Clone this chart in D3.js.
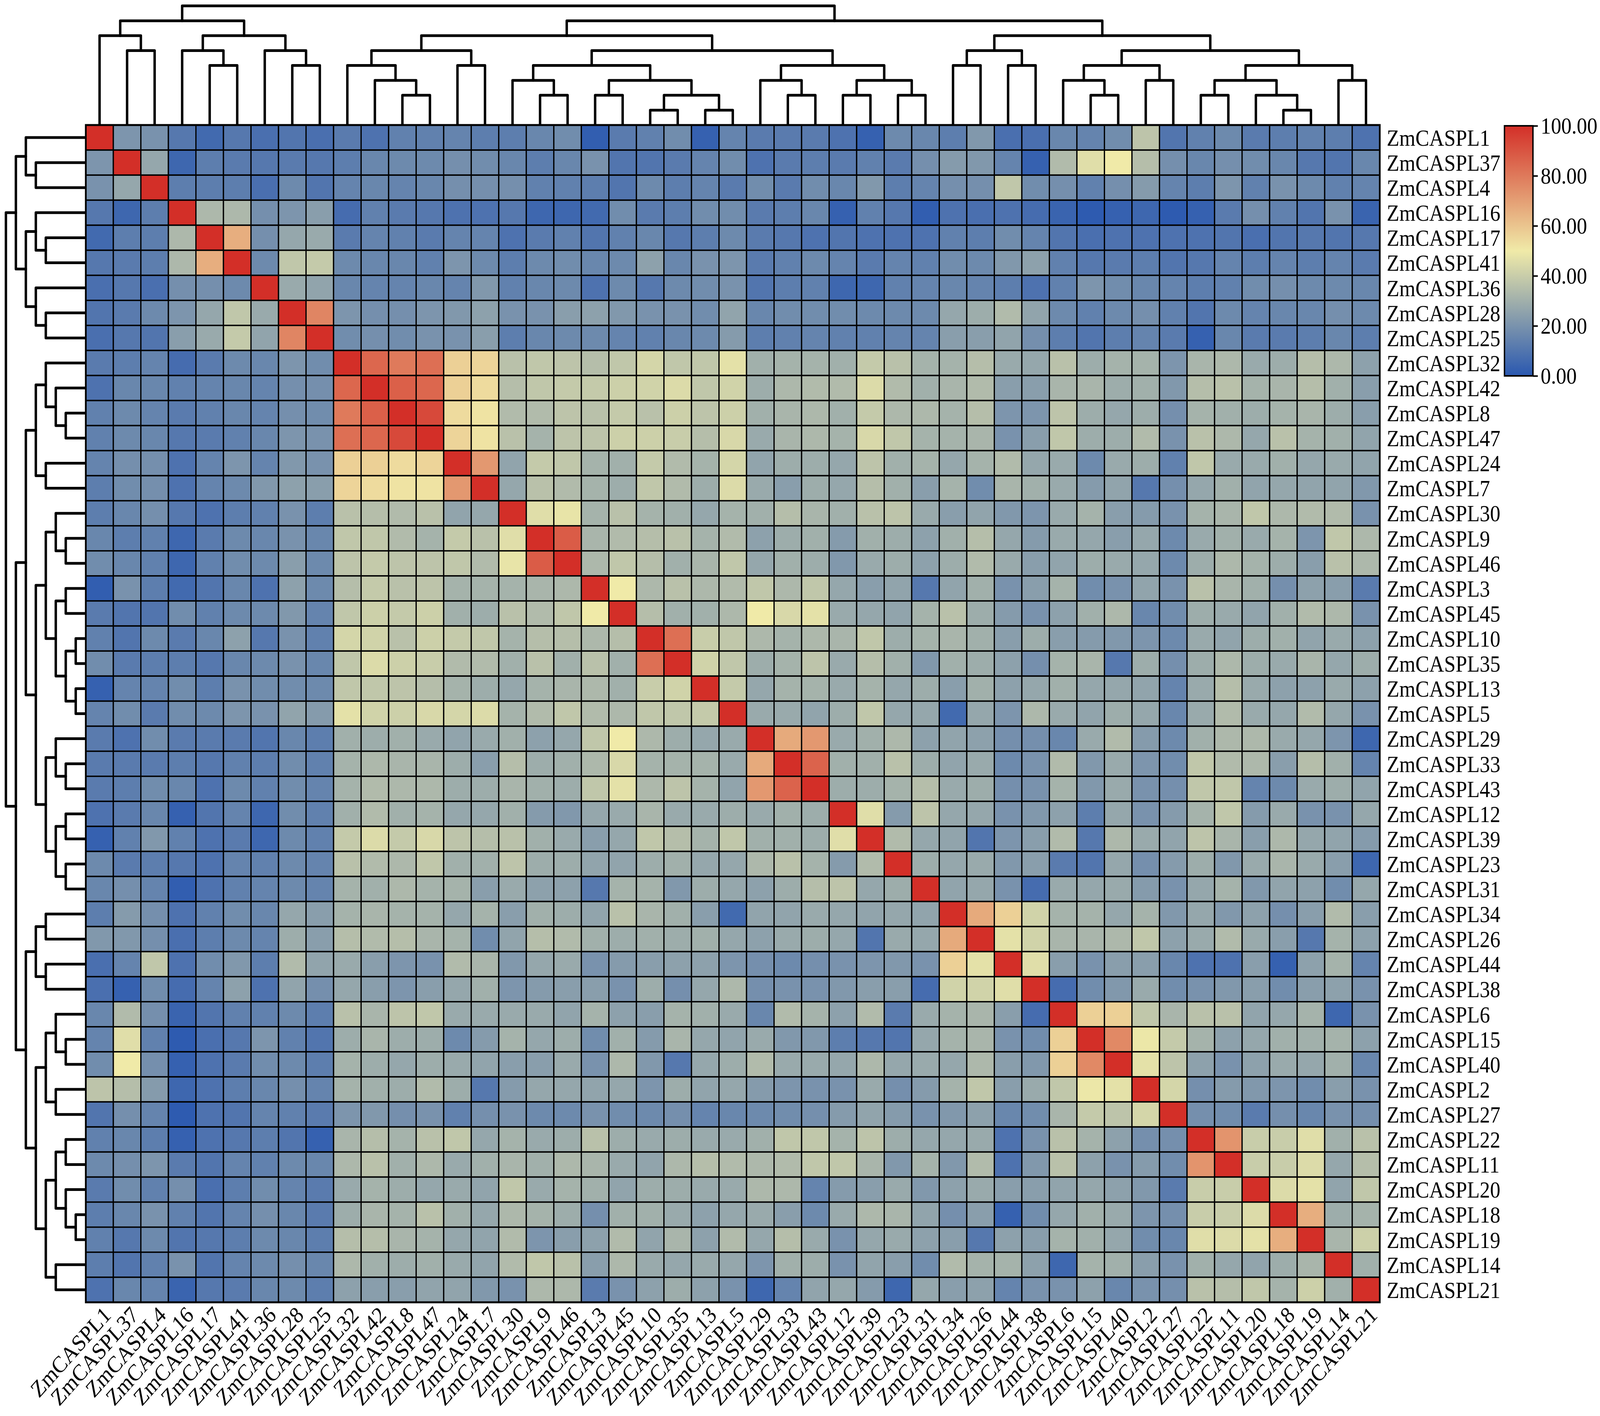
<!DOCTYPE html>
<html><head><meta charset="utf-8">
<script src="https://cdn.jsdelivr.net/npm/d3@7"></script>
<style>html,body{margin:0;padding:0;background:#fff;overflow:hidden}svg{position:absolute;left:0;top:0;width:100vw;height:100vh;display:block}text{font-family:"Liberation Serif","Times New Roman",serif;fill:#000}</style>
</head><body><svg id="c" viewBox="0 0 4606 3624" preserveAspectRatio="none"></svg>
<script>
const numbers = [1,37,4,16,17,41,36,28,25,32,42,8,47,24,7,30,9,46,3,45,10,35,13,5,29,33,43,12,39,23,31,34,26,44,38,6,15,40,2,27,22,11,20,18,19,14,21];
const labels = numbers.map(n => "ZmCASPL" + n);
const colorbarTicks = [0,20,40,60,80,100];
// Upper triangle of the identity matrix; row i starts at column i.
const upperRows = [
[100,21,20,11,6,11,8,10,8,12,9,14,14,15,13,13,16,18,2,12,14,18,3,15,12,12,12,9,3,17,16,13,22,8,8,16,15,18,37,10,14,17,12,13,14,13,9],
[100,27,5,13,12,11,12,11,13,16,17,17,19,18,16,13,16,20,10,10,12,15,18,9,12,13,12,14,12,19,23,22,15,3,34,46,50,35,19,16,19,18,16,11,10,16],
[100,13,13,13,8,17,10,15,16,15,16,19,19,19,14,14,13,10,17,13,15,12,18,12,18,16,22,13,15,19,19,38,18,19,14,19,23,15,13,21,14,20,17,14,15],
[100,33,33,19,21,24,7,14,12,11,9,9,11,5,5,6,18,12,13,18,18,12,13,16,3,14,11,2,9,8,9,7,4,1,3,5,1,3,12,19,14,10,20,4],
[100,66,19,27,28,12,15,14,12,15,15,9,12,14,10,14,16,11,13,17,12,11,9,10,9,9,9,14,13,18,15,10,8,9,9,9,9,10,8,10,11,10,11],
[100,17,38,39,17,16,16,14,21,17,13,17,18,16,17,25,16,20,21,12,14,17,15,12,15,14,18,17,22,25,14,11,12,13,10,11,15,13,15,13,15,12],
[100,28,26,16,15,15,16,15,22,14,16,17,9,17,11,17,18,20,10,13,14,5,5,14,15,16,15,13,9,14,21,18,16,15,13,14,18,19,17,17,16],
[100,77,21,19,19,21,22,25,20,20,24,25,22,20,20,18,26,16,18,18,18,17,17,17,27,29,34,26,17,14,17,19,14,10,17,15,16,16,19,17],
[100,18,19,18,20,20,24,13,16,17,17,15,14,16,17,23,13,14,15,14,14,15,15,24,24,26,19,13,10,13,15,12,3,16,12,12,13,16,13],
[100,85,80,83,57,56,36,38,37,35,38,43,38,38,47,30,31,31,30,39,36,31,31,35,28,27,36,29,31,31,21,32,33,28,29,35,33,25],
[100,87,85,57,54,35,38,39,39,41,42,45,38,42,29,33,34,34,45,34,30,32,34,24,24,32,32,29,30,22,35,36,31,32,35,30,24],
[100,93,54,52,34,34,37,36,39,36,41,37,41,30,32,33,30,39,33,33,31,35,21,21,37,29,27,29,19,31,30,29,31,32,29,24],
[100,56,52,36,31,37,37,41,41,40,35,44,28,32,33,31,44,38,31,31,32,20,24,38,29,29,34,20,36,33,27,36,31,30,26],
[100,72,26,39,38,31,30,39,34,31,43,26,29,29,27,37,30,31,27,31,34,27,28,17,28,29,14,38,28,28,30,27,28,26],
[100,27,36,34,31,29,38,34,29,45,28,24,29,27,35,30,24,31,18,32,30,28,23,26,11,19,27,30,26,27,26,26,22],
[100,46,48,31,36,31,30,27,31,30,35,32,30,36,37,28,24,26,22,21,28,31,24,23,20,31,32,38,33,34,34,20],
[100,88,32,34,35,36,31,34,25,29,30,23,30,29,25,30,35,27,23,28,27,24,27,17,28,30,28,31,21,38,33],
[100,33,38,35,30,32,38,27,30,29,22,28,29,25,29,34,28,24,26,29,28,27,17,29,33,31,29,24,36,33],
[100,50,33,36,33,34,38,33,38,27,24,26,11,26,30,20,24,31,18,20,26,20,36,32,30,19,25,24,12],
[100,35,30,30,33,50,44,47,28,27,26,31,36,29,23,20,25,30,33,16,18,29,28,26,30,34,33,20],
[100,83,40,38,33,31,33,32,38,29,31,32,30,24,29,24,23,22,21,17,28,26,29,30,26,28,25],
[100,42,38,29,31,37,28,35,30,22,30,29,25,19,31,32,11,29,19,29,33,29,28,32,27,29],
[100,39,27,31,31,28,31,27,29,24,30,25,27,30,27,27,26,15,28,35,28,25,25,28,25],
[100,28,28,26,29,38,27,27,6,27,21,33,28,26,29,27,16,28,34,28,27,34,27,20],
[100,67,72,28,30,33,25,26,25,19,19,16,28,34,23,17,30,33,33,28,27,21,5],
[100,86,30,30,36,29,26,28,17,20,34,22,28,21,18,38,34,33,24,35,30,15],
[100,29,29,31,35,28,29,19,20,31,22,28,20,19,38,38,15,17,28,29,26],
[100,46,23,37,27,27,20,22,25,13,27,20,23,31,38,23,28,20,20,27],
[100,34,27,26,10,21,24,34,11,33,28,26,37,32,24,33,27,26,23],
[100,29,27,28,22,24,12,10,27,19,23,29,22,28,32,28,24,5],
[100,26,27,20,7,28,27,28,23,20,27,31,22,26,25,18,27],
[100,67,57,42,31,31,27,31,22,27,22,25,19,24,34,24],
[100,47,42,32,32,33,38,25,28,34,28,24,11,31,25],
[100,46,24,20,24,24,16,9,9,24,3,25,31,15],
[100,7,18,22,28,18,20,22,24,18,24,25,20],
[100,57,57,38,32,36,36,26,27,31,5,20],
[100,76,49,39,31,25,27,30,30,31,25],
[100,47,37,25,20,25,28,27,30,16],
[100,43,19,23,22,21,18,24,20],
[100,19,18,12,19,16,20,19],
[100,73,40,40,46,30,36],
[100,40,40,45,27,35],
[100,45,47,26,38],
[100,66,29,31],
[100,32,41],
[100,30],
[100]
];
// Lower-triangle cells that differ from their mirror: [row, column, value].
const lowerExceptions = [[38,19,27]];
// Cluster tree (same for rows and columns), leaves are positions in `labels`.
const clusterTree = [
 [[0,[1,2]],[[3,[4,5]],[6,[7,8]]]],
 [
  [[[9,[10,[11,12]]],[13,14]],
   [[[15,[16,17]],[[18,19],[[20,21],[22,23]]]],
    [[24,[25,26]],[[27,28],[29,30]]]]],
  [[[31,32],[33,34]],
   [[[35,[36,37]],[38,39]],
    [[[40,41],[42,[43,44]]],[45,46]]]]
 ]
];

const cells = [];
upperRows.forEach((row, i) => row.forEach((v, k) => {
  const j = i + k;
  cells.push({r:i, c:j, v});
  if (i !== j) {
    const e = lowerExceptions.find(t => t[0] === j && t[1] === i);
    cells.push({r:j, c:i, v: e ? e[2] : v});
  }
}));

const svg = d3.select("#c");
const idx = d3.range(labels.length);
const x = d3.scaleBand().domain(idx).range([247, 3972]);
const y = d3.scaleBand().domain(idx).range([320, 3333]);
const color = d3.scaleLinear().domain([0,50,100]).range(["#2a58b0","#f0eaa8","#d32f28"]);

svg.append("g").selectAll("rect").data(cells).join("rect")
  .attr("x", d => x(d.c)).attr("y", d => y(d.r))
  .attr("width", x.bandwidth()).attr("height", y.bandwidth())
  .attr("fill", d => color(d.v)).attr("stroke", "#000").attr("stroke-width", 3.5);
svg.append("rect").attr("x",247).attr("y",320).attr("width",3725).attr("height",3013)
  .attr("fill","none").attr("stroke","#000").attr("stroke-width",5);

// Row labels
svg.append("g").selectAll("text").data(idx).join("text")
  .attr("x", 3992).attr("y", d => y(d) + y.bandwidth()/2).attr("dy",".35em")
  .attr("font-size", 59.5).text(d => labels[d]);
// Column labels
svg.append("g").selectAll("text").data(idx).join("text")
  .attr("text-anchor","end").attr("font-size",59.5)
  .attr("transform", d => `translate(${x(d)+x.bandwidth()/2+36},${3333+36}) rotate(-45)`)
  .text(d => labels[d]);

// Dendrograms: internal nodes sit between leaf positions, so use continuous scales.
const root = d3.hierarchy(clusterTree, d => Array.isArray(d) ? d : null);
root.eachAfter(n => { n.pos = n.children ? d3.mean(n.children, c => c.pos) : n.data; });
const cx = d3.scaleLinear().domain([-0.5, labels.length-0.5]).range([247, 3972]);
const cy = d3.scaleLinear().domain([-0.5, labels.length-0.5]).range([320, 3333]);
const depthTop = d3.scaleLinear().domain([0,7]).range([15,282]);
const depthLeft = d3.scaleLinear().domain([0,7]).range([17,218]);
const internal = root.descendants().filter(n => n.children);
const dendroStyle = s => s.attr("fill","none").attr("stroke","#000").attr("stroke-width",7).attr("stroke-linejoin","round").attr("stroke-linecap","round");
svg.append("g").selectAll("path").data(internal).join("path").call(dendroStyle)
  .attr("d", n => {
    const [a,b] = n.children, h = c => c.children ? depthTop(c.depth) : 318;
    return `M${cx(a.pos)},${h(a)}V${depthTop(n.depth)}H${cx(b.pos)}V${h(b)}`;
  });
svg.append("g").selectAll("path").data(internal).join("path").call(dendroStyle)
  .attr("d", n => {
    const [a,b] = n.children, h = c => c.children ? depthLeft(c.depth) : 245;
    return `M${h(a)},${cy(a.pos)}H${depthLeft(n.depth)}V${cy(b.pos)}H${h(b)}`;
  });

// Colour bar
const barScale = d3.scaleLinear().domain([0,100]).range([962,322]);
const grad = svg.append("defs").append("linearGradient").attr("id","bar")
  .attr("x1",0).attr("x2",0).attr("y1",1).attr("y2",0);
[0,50,100].forEach(v => grad.append("stop").attr("offset", v+"%").attr("stop-color", color(v)));
svg.append("rect").attr("x",4331).attr("y",322).attr("width",82).attr("height",640)
  .attr("fill","url(#bar)").attr("stroke","#000").attr("stroke-width",4);
const axis = d3.axisRight(barScale).tickValues(colorbarTicks).tickFormat(d3.format(".2f")).tickSize(14).tickPadding(8);
const ag = svg.append("g").attr("transform","translate(4413,0)").call(axis);
ag.select(".domain").remove();
ag.selectAll("line").attr("stroke","#000").attr("stroke-width",4);
ag.selectAll("text").attr("font-size",59.5).attr("font-family",'"Liberation Serif"');
</script></body></html>
